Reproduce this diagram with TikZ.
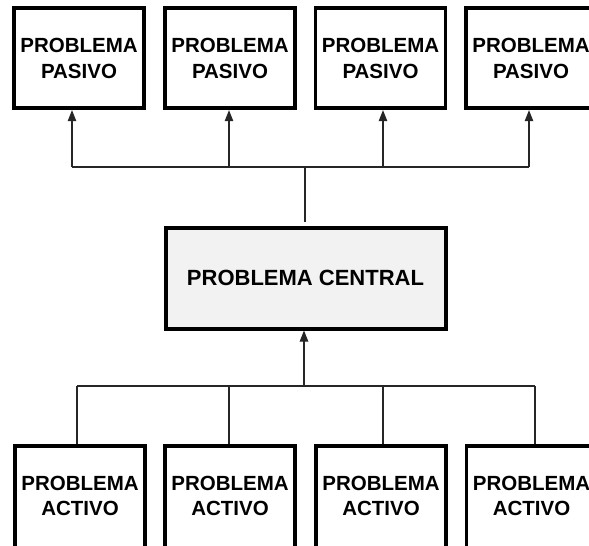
\documentclass[tikz,border=0pt]{standalone}
\usepackage{fontspec}
\setmainfont{Liberation Sans}
\usetikzlibrary{arrows.meta}
\definecolor{centralfill}{HTML}{F2F2F2}
\tikzset{
  probbox/.style={draw=black, line width=3.7pt, fill=white, minimum width=130pt, minimum height=100pt,
    inner sep=0pt, align=center, font=\fontsize{20.5}{25.3}\selectfont\bfseries},
  activebox/.style={probbox, minimum height=120pt, text depth=20pt},
  centralbox/.style={draw=black, line width=4pt, fill=centralfill, minimum width=280pt, minimum height=100.5pt,
    inner sep=0pt, align=center, font=\fontsize{22}{26}\selectfont\bfseries},
  conn/.style={line width=1.1pt, draw=black!85},
  arr/.style={conn, -{Triangle[length=11pt,width=8.5pt]}}
}
\begin{document}
\begin{tikzpicture}[x=1pt,y=-1pt]
\useasboundingbox (0,0) rectangle (589,546);
\clip (0,0) rectangle (589,546);
% top boxes
\node[probbox] (p1) at (79,58.3) {PROBLEMA\\PASIVO};
\node[probbox] (p2) at (230,58.3) {PROBLEMA\\PASIVO};
\node[probbox] (p3) at (380.5,58.3) {PROBLEMA\\PASIVO};
\node[probbox] (p4) at (531,58.3) {PROBLEMA\\PASIVO};
% central
\node[centralbox] (c) at (305.5,278.3) {PROBLEMA CENTRAL};
% bottom boxes (cut off by the lower edge)
\node[activebox] (a1) at (80,505.7) {PROBLEMA\\ACTIVO};
\node[activebox] (a2) at (230,505.7) {PROBLEMA\\ACTIVO};
\node[activebox] (a3) at (381,505.7) {PROBLEMA\\ACTIVO};
\node[activebox] (a4) at (531.5,505.7) {PROBLEMA\\ACTIVO};
% top junctions
\coordinate (t1) at (72,167);
\coordinate (t2) at (229,167);
\coordinate (t3) at (383,167);
\coordinate (t4) at (529,167);
\coordinate (tc) at (305,167);
\coordinate (ctop) at (305,222);
\draw[conn] (t1) -- (t4);
\draw[conn] (tc) -- (ctop);
\draw[arr] (t1) -- (p1.south -| t1);
\draw[arr] (t2) -- (p2.south -| t2);
\draw[arr] (t3) -- (p3.south -| t3);
\draw[arr] (t4) -- (p4.south -| t4);
% bottom junctions
\coordinate (b1) at (77,386);
\coordinate (b2) at (229,386);
\coordinate (b3) at (383,386);
\coordinate (b4) at (535,386);
\coordinate (bc) at (304,386);
\draw[conn] (b1) -- (b4);
\draw[arr] (bc) -- (c.south -| bc);
\draw[conn] (b1) -- (a1.north -| b1);
\draw[conn] (b2) -- (a2.north -| b2);
\draw[conn] (b3) -- (a3.north -| b3);
\draw[conn] (b4) -- (a4.north -| b4);
\end{tikzpicture}
\end{document}
